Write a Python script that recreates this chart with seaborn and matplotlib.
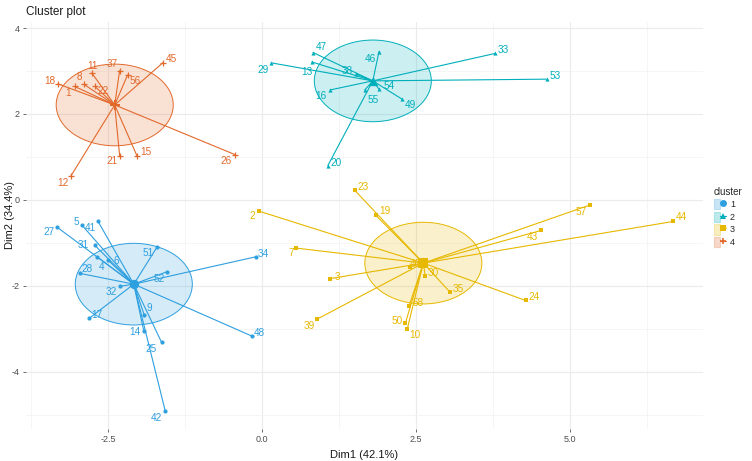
import numpy as np
import pandas as pd
import seaborn as sns
import matplotlib.pyplot as plt
from matplotlib.patches import Ellipse, Patch
from matplotlib.lines import Line2D
from matplotlib.legend_handler import HandlerTuple

# cluster 1
c1_labels = ["27", "5", "41", "31", "4", "6", "51", "28", "52", "34", "32", "17", "9", "14", "25", "48", "42"]
c1_x = [-3.32, -2.92, -2.66, -2.71, -2.67, -2.50, -1.70, -2.95, -1.54, -0.09, -2.31, -2.80, -1.91, -1.92, -1.63, -0.16, -1.57]
c1_y = [-0.64, -0.59, -0.50, -1.06, -1.33, -1.40, -1.09, -1.71, -1.67, -1.32, -2.01, -2.75, -2.68, -3.04, -3.31, -3.17, -4.91]

# cluster 2
c2_labels = ["47", "46", "33", "29", "13", "38", "53", "54", "55", "16", "49", "20"]
c2_x = [0.83, 1.90, 3.79, 0.15, 0.81, 1.53, 4.62, 1.90, 1.67, 1.11, 2.28, 1.07]
c2_y = [3.43, 3.45, 3.41, 3.19, 3.21, 2.93, 2.81, 2.58, 2.56, 2.56, 2.34, 0.80]

# cluster 3
c3_labels = ["2", "23", "19", "57", "44", "43", "7", "3", "40", "30", "35", "24", "58", "39", "50", "10"]
c3_x = [-0.05, 1.51, 1.85, 5.32, 6.68, 4.53, 0.55, 1.11, 2.40, 2.65, 3.05, 4.28, 2.39, 0.90, 2.33, 2.36]
c3_y = [-0.26, 0.22, -0.36, -0.12, -0.50, -0.71, -1.12, -1.83, -1.56, -1.77, -2.14, -2.34, -2.46, -2.77, -2.86, -3.00]

# cluster 4
c4_labels = ["45", "11", "37", "56", "18", "8", "1", "22", "21", "15", "26", "12"]
c4_x = [-1.61, -2.76, -2.31, -2.18, -3.31, -2.89, -3.04, -2.71, -2.31, -2.03, -0.43, -3.10]
c4_y = [3.19, 2.95, 3.01, 2.91, 2.70, 2.69, 2.64, 2.64, 1.03, 1.03, 1.05, 0.56]

clusters = ["1", "2", "3", "4"]
center_x = [-2.08, 1.80, 2.62, -2.39]
center_y = [-1.96, 2.77, -1.47, 2.21]
radius = 0.95

palette = ["#2E9FDF", "#00AFBB", "#E7B800", "#E2692C"]
markers = ["o", "^", "s", "+"]

# label nudges in pixels (dx, dy up)
nudge = {
    "27": (-8, -5), "5": (-6, 3), "41": (-8, -7), "31": (-12, 0), "4": (4, -10), "6": (8, -1),
    "51": (-9, -6), "28": (7, 4), "52": (-8, -7), "34": (7, 3), "32": (-8, -6), "17": (7, 3),
    "9": (5, 7), "14": (-9, -1), "25": (-10, -7), "48": (7, 3), "42": (-9, -7),
    "47": (8, 6), "46": (-9, -7), "33": (8, 3), "29": (-8, -7), "13": (-5, -10), "38": (-9, 3),
    "53": (9, 3), "54": (10, 3), "55": (8, -10), "16": (-9, -6), "49": (8, -6), "20": (8, 3),
    "2": (-7, -5), "23": (8, 3), "19": (9, 4), "57": (-9, -7), "44": (8, 4), "43": (-9, -7),
    "7": (-5, -5), "3": (7, 2), "40": (6, 3), "30": (8, 3), "35": (8, 3), "24": (8, 3),
    "58": (9, 3), "39": (-8, -7), "50": (-8, 2), "10": (8, -6),
    "45": (9, 4), "11": (1, 7), "37": (-7, 7), "56": (8, -6), "18": (-8, 3), "8": (-5, 7),
    "1": (-7, -7), "22": (8, -5), "21": (-8, -5), "15": (9, 4), "26": (-9, -6), "12": (-8, -7),
}

frames = []
for cl, lab, xs, ys in zip(clusters, [c1_labels, c2_labels, c3_labels, c4_labels],
                           [c1_x, c2_x, c3_x, c4_x], [c1_y, c2_y, c3_y, c4_y]):
    frames.append(pd.DataFrame({"name": lab, "x": xs, "y": ys, "cluster": cl}))
df = pd.concat(frames, ignore_index=True)
centers = pd.DataFrame({"cluster": clusters, "x": center_x, "y": center_y})

sns.set_theme(style="white")
plt.rcParams["font.family"] = ["Liberation Sans", "DejaVu Sans"]
plt.rcParams["axes.unicode_minus"] = False

fig = plt.figure(figsize=(7.52, 4.61), dpi=100)
ax = fig.add_axes([26 / 752, 1 - 429 / 461, 677 / 752, 407 / 461])

for i, cl in enumerate(clusters):
    col = palette[i]
    sub = df[df.cluster == cl]
    cx, cy = center_x[i], center_y[i]
    ax.add_patch(Ellipse((cx, cy), 2 * radius, 2 * radius, facecolor=col, alpha=0.2,
                         edgecolor="none", zorder=1))
    ax.add_patch(Ellipse((cx, cy), 2 * radius, 2 * radius, facecolor="none",
                         edgecolor=col, lw=0.7, zorder=1.5))
    for _, r in sub.iterrows():
        ax.plot([r.x, cx], [r.y, cy], color=col, lw=0.8, zorder=2)
    if markers[i] == "+":
        sns.scatterplot(data=sub, x="x", y="y", marker="+", color=col, s=22,
                        linewidth=0.9, ax=ax, zorder=3)
        sns.scatterplot(data=centers[centers.cluster == cl], x="x", y="y", marker="+",
                        color=col, s=60, linewidth=1.5, ax=ax, zorder=3)
    else:
        sns.scatterplot(data=sub, x="x", y="y", marker=markers[i], color=col, s=9,
                        linewidth=0, ax=ax, zorder=3)
        sns.scatterplot(data=centers[centers.cluster == cl], x="x", y="y", marker=markers[i],
                        color=col, s=45, linewidth=0, ax=ax, zorder=3)
    for _, r in sub.iterrows():
        dx, dy = nudge.get(r["name"], (6, 4))
        ax.annotate(r["name"], (r.x, r.y), xytext=(dx, dy), textcoords="offset pixels",
                    ha="center", va="center", fontsize=7.2, color=col, zorder=4)

ax.set_xlim(-3.83, 7.16)
ax.set_ylim(-5.33, 4.14)
ax.set_xticks([-2.5, 0, 2.5, 5.0])
ax.set_xticklabels(["-2.5", "0.0", "2.5", "5.0"])
ax.set_yticks([-4, -2, 0, 2, 4])
ax.set_xticks([-3.75, -1.25, 1.25, 3.75, 6.25], minor=True)
ax.set_yticks([-5, -3, -1, 1, 3], minor=True)
ax.grid(which="major", color="#EBEBEB", lw=0.8)
ax.grid(which="minor", color="#F2F2F2", lw=0.5)
ax.set_axisbelow(True)
for s in ax.spines.values():
    s.set_visible(False)
ax.tick_params(which="major", length=2.5, width=0.6, color="#555555", labelsize=6.5,
               labelcolor="#4D4D4D", pad=2, left=True, bottom=True)
ax.tick_params(which="minor", length=0)
ax.set_xlabel("Dim1 (42.1%)", fontsize=8, color="#1A1A1A", labelpad=4)
ax.set_ylabel("")
fig.text(10 / 752, 1 - 215 / 461, "Dim2 (34.4%)", fontsize=8, color="#1A1A1A",
         rotation=90, ha="center", va="center")
fig.text(26 / 752, 1 - 12 / 461, "Cluster plot", fontsize=8.5, color="#1A1A1A",
         ha="left", va="center")

handles = []
for i in range(4):
    p = Patch(facecolor=palette[i], alpha=0.25, edgecolor=palette[i], lw=0.8)
    ln = Line2D([], [], color=palette[i], marker=markers[i], lw=0.8, markersize=5,
                markeredgewidth=1.2 if markers[i] == "+" else 0)
    handles.append((p, ln))
leg = fig.legend(handles, clusters, title="cluster", loc="upper left",
                 bbox_to_anchor=(710 / 752, 1 - 183 / 461), frameon=False,
                 fontsize=6.5, title_fontsize=7, handlelength=1.4, handleheight=1.4,
                 labelspacing=0.25, handletextpad=0.4, borderaxespad=0,
                 handler_map={tuple: HandlerTuple(ndivide=None, pad=0)})
leg._legend_box.align = "left"

fig.savefig("out.png", dpi=100)
